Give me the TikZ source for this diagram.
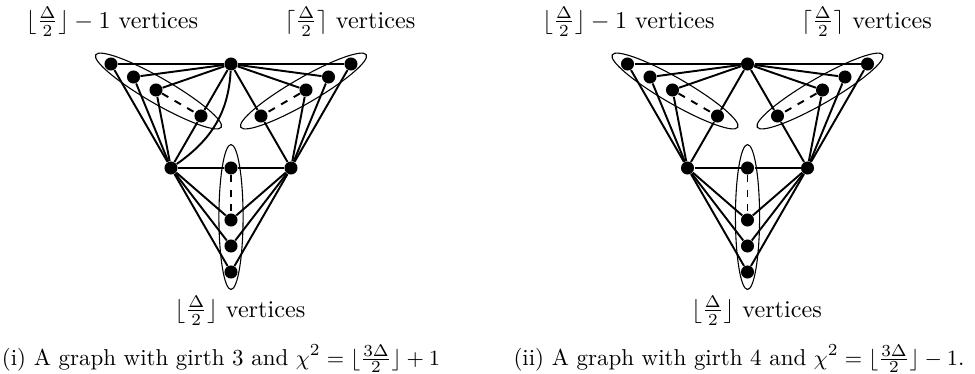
\documentclass[tikz,border=0pt]{standalone}
\usepackage{amsmath}
\tikzset{
  dot/.style={circle,fill=black,draw=none,inner sep=0pt,minimum size=5.4pt},
  edge/.style={line width=0.8pt},
  dashedge/.style={line width=0.8pt,dash pattern=on 3pt off 3pt},
  group/.style={line width=0.45pt},
  lbl/.style={anchor=base,inner sep=0pt},
  captext/.style={anchor=base,inner sep=0pt,font=\fontsize{9.5}{11}\selectfont}
}
\newcommand\mygraph[2]{%
\begin{scope}[shift={(#2,0)}]
  \node[dot] (#1T) at (231,64) {};
  \node[dot] (#1L) at (171,168) {};
  \node[dot] (#1R) at (291,168) {};
  \node[dot] (#1a1) at (111,64) {};
  \node[dot] (#1a2) at (133.5,77) {};
  \node[dot] (#1a3) at (156,90) {};
  \node[dot] (#1a4) at (201,116) {};
  \node[dot] (#1b1) at (351,64) {};
  \node[dot] (#1b2) at (328.5,77) {};
  \node[dot] (#1b3) at (306,90) {};
  \node[dot] (#1b4) at (261,116) {};
  \node[dot] (#1c1) at (231,168) {};
  \node[dot] (#1c2) at (231,220) {};
  \node[dot] (#1c3) at (231,246) {};
  \node[dot] (#1c4) at (231,272) {};
  \draw[group,shift={(158.5,91)},rotate=-30] (0,0) ellipse [x radius=30pt,y radius=5.3pt];
  \draw[group,shift={(303.5,91)},rotate=30] (0,0) ellipse [x radius=30pt,y radius=5.3pt];
  \draw[group] (231,217) ellipse [x radius=5pt,y radius=30pt];
  \foreach \v in {a1,a2,a3,a4,b1,b2,b3,b4} \draw[edge] (#1T) -- (#1\v);
  \foreach \v in {a1,a2,a3,a4} \draw[edge] (#1L) -- (#1\v);
  \foreach \v in {b1,b2,b3,b4} \draw[edge] (#1R) -- (#1\v);
  \foreach \v in {c1,c2,c3,c4} {\draw[edge] (#1L) -- (#1\v); \draw[edge] (#1R) -- (#1\v);}
  \draw[dashedge] (#1a3) -- (#1a4);
  \draw[dashedge] (#1b3) -- (#1b4);
  \draw[dashedge] (#1c1) -- (#1c2);
  \node[lbl] (#1lt) at (112,28) {$\lfloor\frac{\Delta}{2}\rfloor - 1$ vertices};
  \node[lbl] (#1rt) at (350,28) {$\lceil\frac{\Delta}{2}\rceil$ vertices};
  \node[lbl] (#1bt) at (240,317) {$\lfloor\frac{\Delta}{2}\rfloor$ vertices};
\end{scope}}
\begin{document}
\begin{tikzpicture}[x=0.414pt,y=-0.414pt]
  \useasboundingbox (0,0) rectangle (975,373);
  \mygraph{l}{0}
  \mygraph{r}{516.5}
  \draw[edge] (lT) to[out=-93,in=35] (lL);
  \node[captext] (capl) at (221,365) {(i) A graph with girth 3 and $\chi^2=\lfloor\frac{3\Delta}{2}\rfloor+1$};
  \node[captext] (capr) at (739,365) {(ii) A graph with girth 4 and $\chi^2=\lfloor\frac{3\Delta}{2}\rfloor-1$.};
\end{tikzpicture}
\end{document}
